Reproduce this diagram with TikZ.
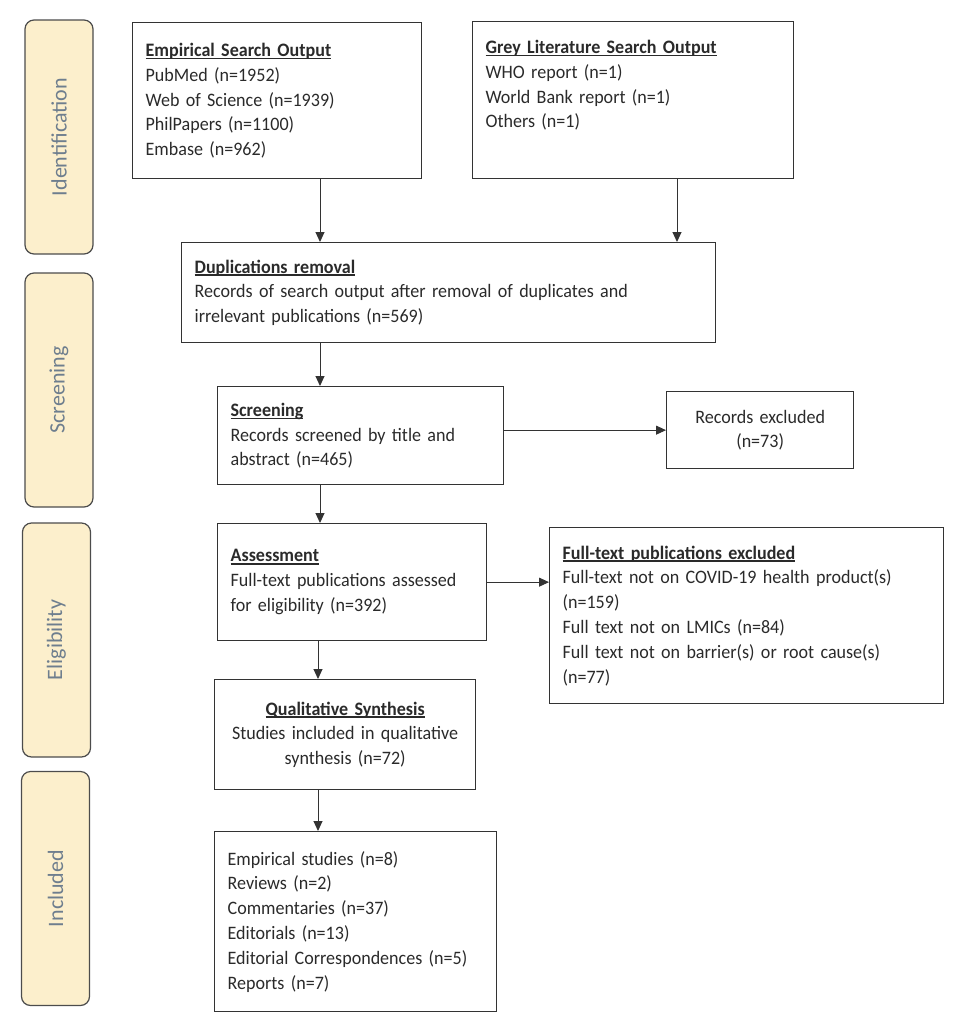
\documentclass[tikz,border=0pt]{standalone}
\usepackage{fontspec}
\setmainfont{Carlito}[FakeStretch=0.95]
\newfontfamily\phasefont{Carlito}
\usetikzlibrary{positioning,arrows.meta}
\definecolor{phasefill}{HTML}{FCEFCC}
\definecolor{phasetext}{HTML}{6E7E8E}
\definecolor{boxtext}{HTML}{2A2A2A}
\newcommand{\hd}[1]{\setbox0\hbox{\textbf{#1}}\rlap{\rule[-2.8pt]{\wd0}{1.5pt}}\box0}

\begin{document}
\begin{tikzpicture}[x=1pt,y=-1pt,
box/.style={draw=black!80,line width=1.3pt,rectangle,anchor=north west,inner xsep=13pt,inner ysep=0pt,align=left,text=boxtext,font=\fontsize{19}{24.8}\selectfont},
phase/.style={draw=black!70,line width=1.2pt,fill=phasefill,rounded corners=9pt,rotate=90,minimum width=234pt,minimum height=68pt,text=phasetext,font=\phasefont\fontsize{22}{24}\selectfont},
arr/.style={draw=black!80,line width=1pt,-{Triangle[length=10pt,width=9pt]}}]
\useasboundingbox (0,0) rectangle (957,1023);

\node (pid) [phase] at (59,137) {Identification};
\node (pscr) [phase] at (59,390) {Screening};
\node (pel) [phase] at (56.5,640) {Eligibility};
\node (pinc) [phase] at (55.5,888.5) {Included};

\node (emp) [box,text width=263pt,minimum height=156pt] at (132,22) {\hd{Empirical Search Output}\\
    PubMed (n=1952)\\
    Web of Science (n=1939)\\
    PhilPapers (n=1100)\\
    Embase (n=962)};
\node (grey) [box,text width=295pt,minimum height=157pt] at (472,21) {\hd{Grey Literature Search Output}\\
    WHO report (n=1)\\
    World Bank report (n=1)\\
    Others (n=1)\\
    \strut};
\node (dup) [box,text width=508pt,minimum height=100pt] at (181,242) {\hd{Duplications removal}\\
    Records of search output after removal of duplicates and\\
    irrelevant publications (n=569)};
\node (scr) [box,text width=260pt,minimum height=98pt] at (217,386) {\hd{Screening}\\
    Records screened by title and\\
    abstract (n=465)};
\node (rex) [box,text width=161pt,minimum height=77pt,align=center] at (666,391) {Records excluded\\
    (n=73)};
\node (ass) [box,text width=243pt,minimum height=117pt] at (217,523) {\hd{Assessment}\\
    Full-text publications assessed\\
    for eligibility (n=392)};
\node (ftx) [box,text width=368pt,minimum height=176pt] at (549,527) {\hd{Full-text publications excluded}\\
    Full-text not on COVID-19 health product(s)\\
    (n=159)\\
    Full text not on LMICs (n=84)\\
    Full text not on barrier(s) or root cause(s)\\
    (n=77)};
\node (qual) [box,text width=253pt,inner xsep=4pt,minimum height=110pt,align=center] at (214,679) {\hd{Qualitative Synthesis}\\
    Studies included in qualitative\\
    synthesis (n=72)};
\node (inc) [box,text width=256pt,minimum height=180pt] at (214,831) {Empirical studies (n=8)\\
    Reviews (n=2)\\
    Commentaries (n=37)\\
    Editorials (n=13)\\
    Editorial Correspondences (n=5)\\
    Reports (n=7)};

\coordinate (col) at (320,0);
\coordinate (gcol) at (677,0);
\draw[arr] (emp.south -| col) -- (dup.north -| col);
\draw[arr] (grey.south -| gcol) -- (dup.north -| gcol);
\draw[arr] (dup.south -| col) -- (scr.north -| col);
\draw[arr] (scr.south -| col) -- (ass.north -| col);
\draw[arr] (scr.east |- rex) -- (rex.west);
\draw[arr] (ass.east) -- (ass.east -| ftx.west);
\draw[arr] (ass.south -| 318,0) -- (qual.north -| 318,0);
\draw[arr] (qual.south -| 318,0) -- (inc.north -| 318,0);
\end{tikzpicture}
\end{document}
